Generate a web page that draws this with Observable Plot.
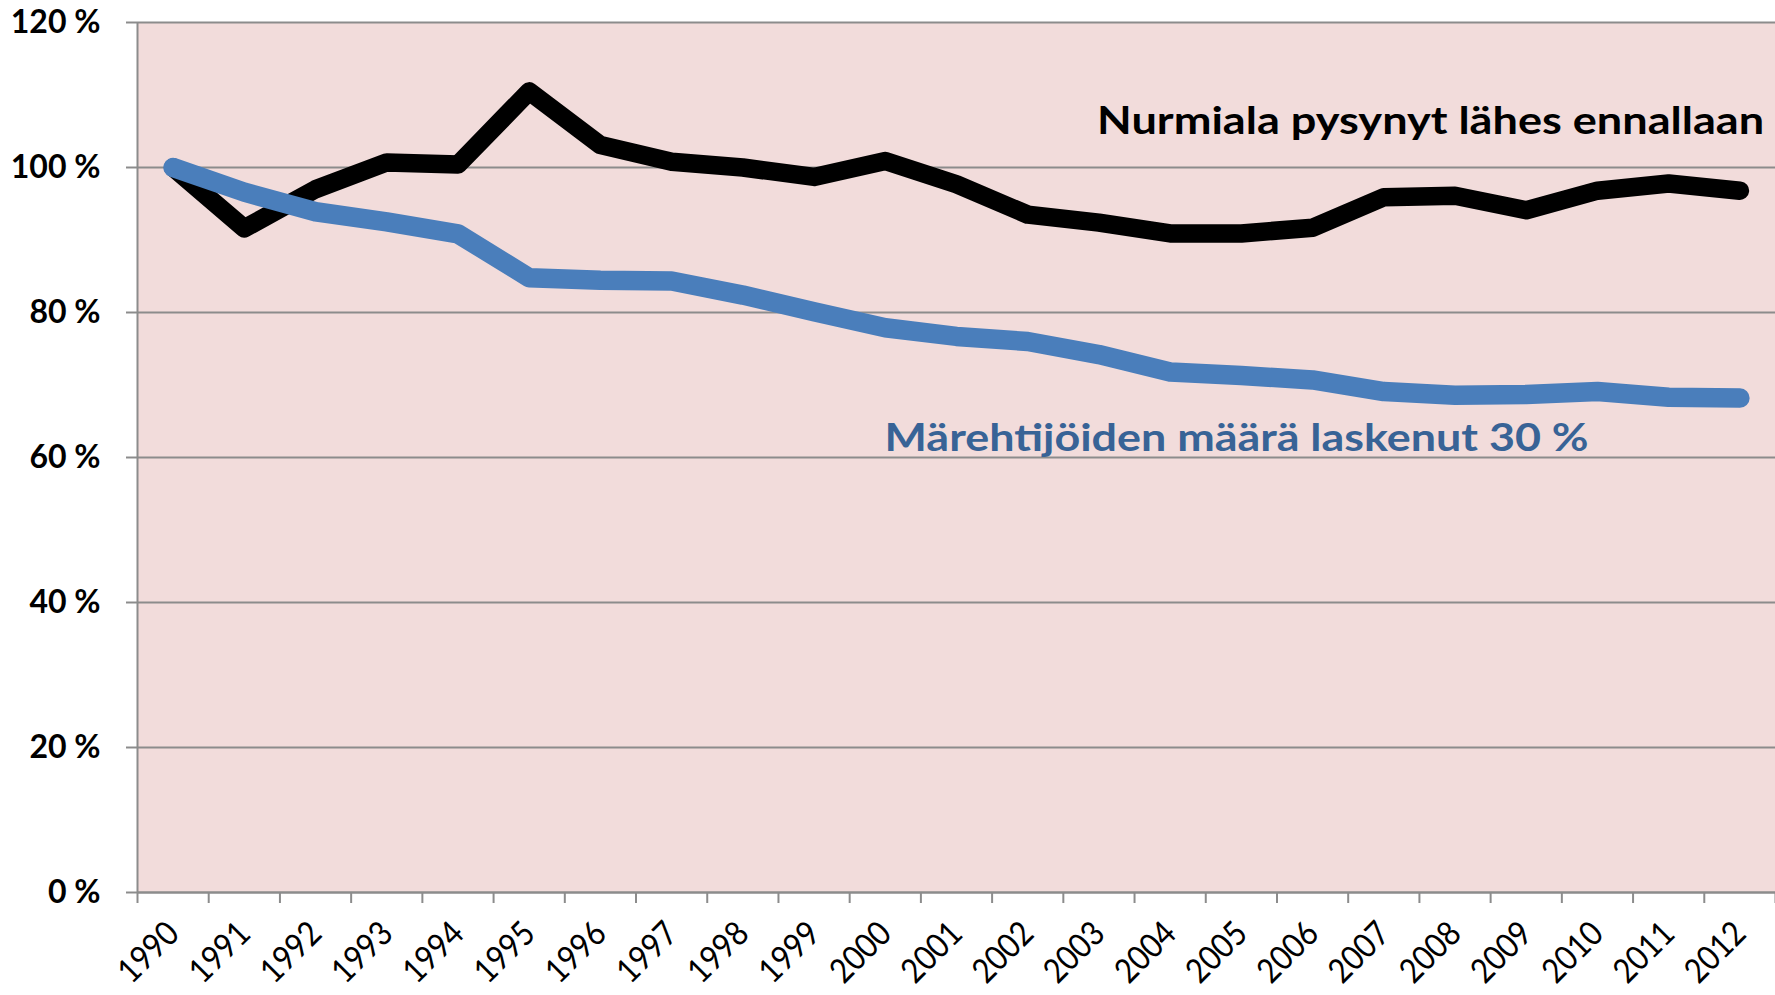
<!DOCTYPE html>
<html>
<head>
<meta charset="utf-8">
<script src="https://cdn.jsdelivr.net/npm/d3@7"></script>
<script src="https://cdn.jsdelivr.net/npm/@observablehq/plot@0.6"></script>
<style>
  html, body { margin: 0; padding: 0; background: #ffffff; overflow: hidden; }
  #chart svg { display: block; }
</style>
</head>
<body>
<div id="chart"></div>
<script>
// ---- data ----
const years = [1990, 1991, 1992, 1993, 1994, 1995, 1996, 1997, 1998, 1999, 2000, 2001,
               2002, 2003, 2004, 2005, 2006, 2007, 2008, 2009, 2010, 2011, 2012];
// Nurmiala (grassland area), index 1990 = 100 %
const nurmiala = [100, 91.6, 97.0, 100.7, 100.4, 110.5, 103.1, 100.8, 100.0, 98.7, 100.9, 97.7,
                  93.5, 92.4, 90.9, 90.9, 91.7, 95.9, 96.1, 94.1, 96.8, 97.8, 96.8];
// Märehtijät (ruminants), index 1990 = 100 %
const marehtijat = [100, 96.6, 93.9, 92.5, 90.85, 84.8, 84.45, 84.35, 82.4, 80.1, 77.9, 76.7,
                    76.0, 74.2, 71.8, 71.3, 70.7, 69.1, 68.6, 68.7, 69.1, 68.3, 68.2];
const yTicks = [0, 20, 40, 60, 80, 100, 120];
const labelNurmiala = "Nurmiala pysynyt lähes ennallaan";
const labelMarehtijat = "Märehtijöiden määrä laskenut 30 %";

const rowsN = years.map((yr, i) => ({year: yr, value: nurmiala[i]}));
const rowsM = years.map((yr, i) => ({year: yr, value: marehtijat[i]}));
const boundaries = years.map(y => y - 0.5).concat([years[years.length - 1] + 0.5]);

const gray = "#8c8c8c";

const chart = Plot.plot({
  width: 1775,
  height: 995,
  marginLeft: 137,
  marginRight: 0,
  marginTop: 22,
  marginBottom: 103,
  style: {fontFamily: "Lato, 'Open Sans', sans-serif", background: "#ffffff", overflow: "visible"},
  x: {domain: [years[0] - 0.5, years[years.length - 1] + 0.5], axis: null},
  y: {domain: [0, 120], axis: null},
  marks: [
    Plot.frame({fill: "#F2DCDB", stroke: null}),
    Plot.gridY(yTicks, {stroke: gray, strokeOpacity: 1, strokeWidth: 2}),
    Plot.axisY(yTicks, {
      tickSize: 11, tickPadding: 26, stroke: gray, strokeWidth: 2, fill: "#000",
      tickFormat: d => `${d} %`, fontSize: 32, fontWeight: "bold", label: null
    }),
    Plot.ruleX([years[0] - 0.5], {stroke: gray, strokeWidth: 2}),
    Plot.ruleY([0], {stroke: gray, strokeWidth: 2}),
    Plot.axisX(boundaries, {tickSize: 11, stroke: gray, strokeWidth: 2, tickFormat: () => "", label: null}),
    Plot.text(years, {
      x: d => d, frameAnchor: "bottom", rotate: -45, textAnchor: "end",
      dx: 8, dy: 43, fontSize: 34, fill: "#000", text: d => String(d)
    }),
    Plot.lineY(rowsN, {x: "year", y: "value", stroke: "#000000", strokeWidth: 18.5,
      strokeLinecap: "round", strokeLinejoin: "round"}),
    Plot.lineY(rowsM, {x: "year", y: "value", stroke: "#4A7EBB", strokeWidth: 19.5,
      strokeLinecap: "round", strokeLinejoin: "round"}),
    Plot.text([labelNurmiala], {
      x: 2012.34, y: 106.3, text: d => d, textAnchor: "end",
      fontSize: 38, fontWeight: "bold", fill: "#000000"
    }),
    Plot.text([labelMarehtijat], {
      x: 1999.99, y: 62.6, text: d => d, textAnchor: "start",
      fontSize: 38, fontWeight: "bold", fill: "#386396"
    })
  ]
});

document.getElementById("chart").appendChild(chart);

// fit texts to the widths seen in the reference (Calibri metrics)
const yearSet = new Set(years.map(String));
chart.querySelectorAll("text").forEach(t => {
  if (t.textContent === labelNurmiala) {
    t.setAttribute("textLength", 667);
    t.setAttribute("lengthAdjust", "spacingAndGlyphs");
  } else if (t.textContent === labelMarehtijat) {
    t.setAttribute("textLength", 704);
    t.setAttribute("lengthAdjust", "spacingAndGlyphs");
  } else if (yearSet.has(t.textContent)) {
    t.setAttribute("textLength", 70);
    t.setAttribute("lengthAdjust", "spacingAndGlyphs");
  }
});
</script>
</body>
</html>
